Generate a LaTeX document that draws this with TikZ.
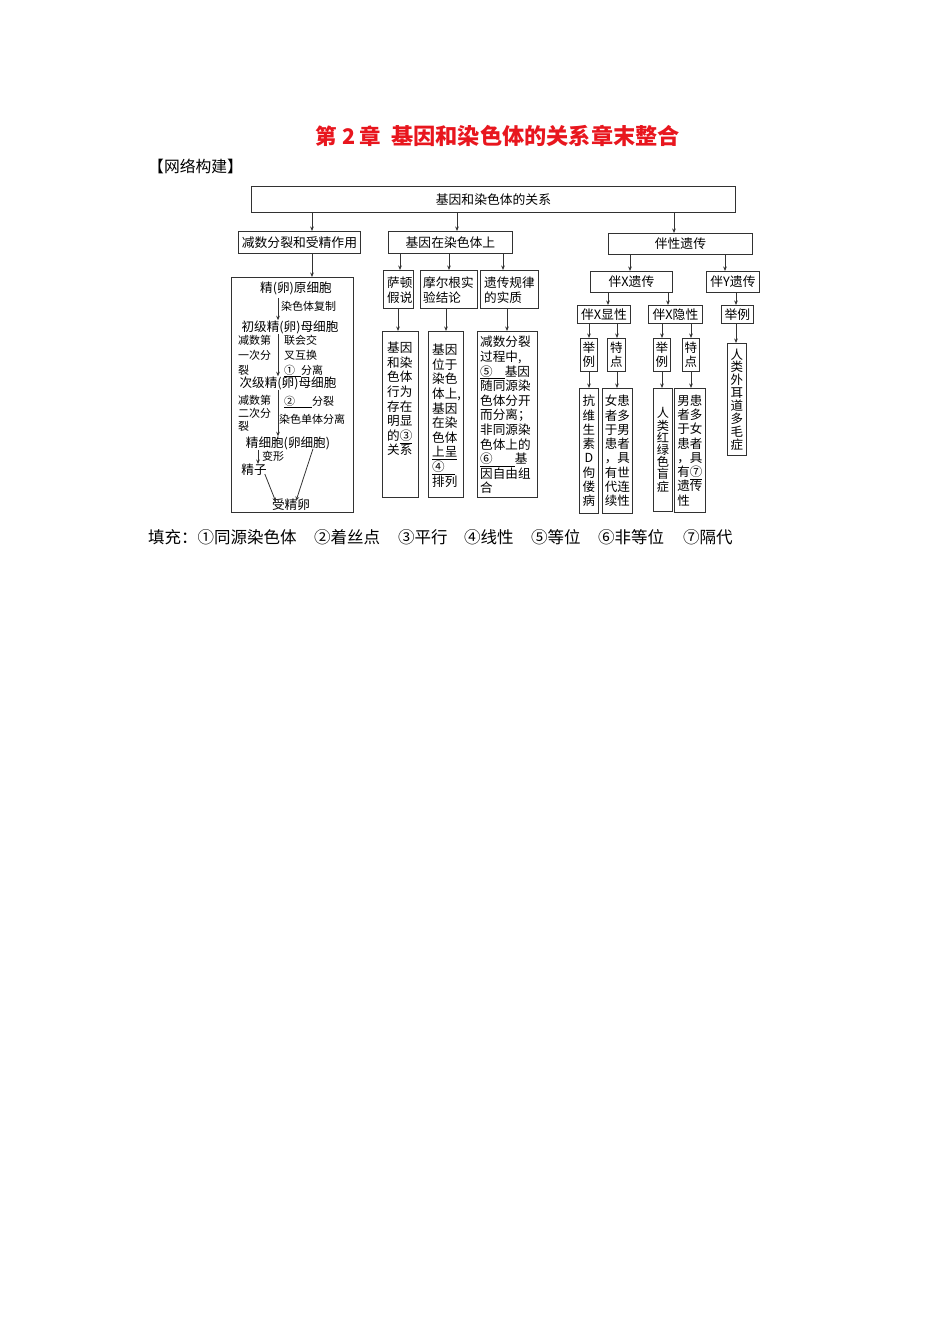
\documentclass[tikz,border=0pt]{standalone}
\usepackage{fontspec}
\setmainfont{Noto Sans CJK SC}
\usetikzlibrary{arrows.meta}
\definecolor{titlered}{RGB}{232,22,30}
\definecolor{linec}{RGB}{50,50,50}
\begin{document}
\begin{tikzpicture}[x=1pt,y=-1pt,
  box/.style={draw=linec, line width=0.9pt, inner sep=0pt, anchor=north west},
  lbl/.style={font=\fontsize{12.8}{14.5}\selectfont},
  vtx/.style={align=center, font=\fontsize{12.5}{14.3}\selectfont},
  txt/.style={inner sep=0pt, align=left, font=\fontsize{12.6}{14.6}\selectfont},
  big/.style={inner sep=0pt, font=\fontsize{12.6}{14.5}\selectfont},
  sml/.style={inner sep=0pt, align=left, font=\fontsize{11}{14.8}\selectfont},
  arr/.style={draw=linec, line width=0.8pt, -{Stealth[length=4.5pt,width=3.6pt]}},
  fillt/.style={anchor=west, inner sep=0pt, font=\fontsize{16.5}{18}\selectfont},
  ttl/.style={inner sep=0pt, text=titlered, font=\fontsize{21.5}{24}\bfseries\selectfont}
]
\useasboundingbox (0,0) rectangle (950,1344);

% title and heading
\node[ttl, anchor=west] (title1) at (315,136) {第\hspace{6pt}2\hspace{4pt}章};
\node[ttl, anchor=east, font=\fontsize{22.2}{24}\bfseries\selectfont] (title2) at (680,136) {基因和染色体的关系章末整合};
\node[anchor=west, inner sep=0pt, font=\fontsize{15.8}{18}\selectfont] (head) at (148,166) {【网络构建】};

% column coordinates
\foreach \c in {312,457,674,278,258,400,449,503,398,446,507,630,725,608,668,736,589,617,662,691}
  \coordinate (c\c) at (\c,0);

% top level
\node[box, lbl, minimum width=484pt, minimum height=26pt] (top) at (251,186) {基因和染色体的关系};
\node[box, lbl, minimum width=122pt, minimum height=22pt] (A) at (238,231) {减数分裂和受精作用};
\node[box, lbl, minimum width=124pt, minimum height=22pt] (B) at (388,231) {基因在染色体上};
\node[box, lbl, minimum width=144pt, minimum height=21pt] (C) at (608,233) {伴性遗传};
\draw[arr] (top.south -| c312) -- (A.north -| c312);
\draw[arr] (top.south -| c457) -- (B.north -| c457);
\draw[arr] (top.south -| c674) -- (C.north -| c674);

% left column
\node[box, minimum width=122pt, minimum height=235pt] (A1) at (231,277) {};
\draw[arr] (A.south -| c312) -- (A1.north -| c312);
\node[big] (n1) at (296,288) {精(卵)原细胞};
\node[big] (n2) at (290,327) {初级精(卵)母细胞};
\node[big] (n3) at (288,383) {次级精(卵)母细胞};
\node[big] (n4) at (288,443) {精细胞(卵细胞)};
\node[big] (n5) at (254,470) {精子};
\node[big] (n6) at (291,505) {受精卵};
\node[sml, anchor=west] (l1) at (281,306) {染色体复制};
\node[sml, anchor=north west] (l2) at (238,335) {减数第\\一次分\\裂};
\node[sml, anchor=north west] (l3) at (284,335) {联会交\\叉互换\\\underline{①\hspace{6pt}}分离};
\node[sml, anchor=north west, font=\fontsize{11}{13.2}\selectfont] (l4) at (238,395) {减数第\\二次分\\裂};
\node[sml, anchor=west] (l5) at (284,402) {\underline{②\hspace{17pt}}分裂};
\node[sml, anchor=west] (l6) at (279,419) {染色单体分离};
\node[sml, anchor=west] (l7) at (262,456) {变形};
\draw[arr] ([yshift=-3pt]n1.south -| c278) -- (n2.north -| c278);
\draw[arr] (n2.south -| c278) -- (n3.north -| c278);
\draw[arr] (n3.south -| c278) -- (n4.north -| c278);
\draw[arr] (n4.south -| c258) -- (n5.north -| c258);
\draw[arr] ([xshift=-2pt,yshift=2pt]n5.south east) -- ([xshift=4pt,yshift=-3pt]n6.north west);
\draw[arr] ([xshift=25pt,yshift=1pt]n4.south) -- ([xshift=5pt,yshift=-2pt]n6.north);

% middle column
\node[box, minimum width=30pt, minimum height=38pt] (B1) at (383,270) {};
\node[box, minimum width=57pt, minimum height=38pt] (B2) at (420,270) {};
\node[box, minimum width=58pt, minimum height=38pt] (B3) at (480,270) {};
\node[txt, anchor=north west] (B1t) at (387,277) {萨顿\\假说};
\node[txt, anchor=north west] (B2t) at (423,277) {摩尔根实\\验结论};
\node[txt, anchor=north west] (B3t) at (484,277) {遗传规律\\的实质};
\draw[arr] (B.south -| c400) -- (B1.north -| c400);
\draw[arr] (B.south -| c449) -- (B2.north -| c449);
\draw[arr] (B.south -| c503) -- (B3.north -| c503);

\node[box, minimum width=36pt, minimum height=166pt] (B1a) at (382,331) {};
\node[box, minimum width=35pt, minimum height=166pt] (B2a) at (428,331) {};
\node[box, minimum width=60pt, minimum height=166pt] (B3a) at (477,331) {};
\draw[arr] (B1.south -| c398) -- (B1a.north -| c398);
\draw[arr] (B2.south -| c446) -- (B2a.north -| c446);
\draw[arr] (B3.south -| c507) -- (B3a.north -| c507);
\node[txt, anchor=north west] (B1at) at (387,342) {基因\\和染\\色体\\行为\\存在\\明显\\的\underline{③}\\关系};
\node[txt, anchor=north west] (B2at) at (432,344) {基因\\位于\\染色\\体上,\\基因\\在染\\色体\\\underline{上呈}\\\underline{④\hspace{10pt}}\\排列};
\node[txt, anchor=north west] (B3at) at (480,336) {减数分裂\\过程中,\\\underline{⑤\hspace{12pt}}基因\\随同源染\\色体分开\\而分离；\\非同源染\\色体上的\\\underline{⑥\hspace{22pt}}基\\因自由组\\合};

% right column
\node[box, lbl, minimum width=82pt, minimum height=21pt] (C1) at (590,271) {伴X遗传};
\node[box, lbl, minimum width=53pt, minimum height=21pt] (C2) at (706,271) {伴Y遗传};
\draw[arr] (C.south -| c630) -- (C1.north -| c630);
\draw[arr] (C.south -| c725) -- (C2.north -| c725);
\node[box, lbl, minimum width=53pt, minimum height=18pt] (C1a) at (577,305) {伴X显性};
\node[box, lbl, minimum width=54pt, minimum height=18pt] (C1b) at (648,305) {伴X隐性};
\node[box, lbl, minimum width=32pt, minimum height=18pt] (C2a) at (721,305) {举例};
\draw[arr] (C1.south -| c608) -- (C1a.north -| c608);
\draw[arr] (C1.south -| c668) -- (C1b.north -| c668);
\draw[arr] (C2.south -| c736) -- (C2a.north -| c736);

\node[box, vtx, minimum width=17pt, minimum height=33pt] (xa1) at (580,338) {举\\例};
\node[box, vtx, minimum width=18pt, minimum height=33pt] (xa2) at (607,338) {特\\点};
\node[box, vtx, minimum width=17pt, minimum height=33pt] (xb1) at (653,338) {举\\例};
\node[box, vtx, minimum width=17pt, minimum height=33pt] (xb2) at (682,338) {特\\点};
\draw[arr] (C1a.south -| c589) -- (xa1.north -| c589);
\draw[arr] (C1a.south -| c617) -- (xa2.north -| c617);
\draw[arr] (C1b.south -| c662) -- (xb1.north -| c662);
\draw[arr] (C1b.south -| c691) -- (xb2.north -| c691);

\node[box, vtx, minimum width=19pt, minimum height=125pt] (xa1x) at (579,388) {抗\\维\\生\\素\\D\\佝\\偻\\病};
\node[box, vtx, align=left, minimum width=30pt, minimum height=125pt] (xa2x) at (602,388) {女患\\者多\\于男\\患者\\，具\\有世\\代连\\续性};
\node[box, vtx, font=\fontsize{12.2}{12.2}\selectfont, minimum width=19pt, minimum height=123pt] (xb1x) at (653,388) {人\\类\\红\\绿\\色\\盲\\症};
\node[box, vtx, align=left, minimum width=31pt, minimum height=124pt] (xb2x) at (674,388) {男患\\者多\\于女\\患者\\，具\\有\underline{⑦}\\遗传\\性};
\node[box, vtx, font=\fontsize{12.5}{12.9}\selectfont, minimum width=19pt, minimum height=112pt] (ya1) at (727,343) {人\\类\\外\\耳\\道\\多\\毛\\症};
\draw[arr] (xa1.south -| c589) -- (xa1x.north -| c589);
\draw[arr] (xa2.south -| c617) -- (xa2x.north -| c617);
\draw[arr] (xb1.south -| c662) -- (xb1x.north -| c662);
\draw[arr] (xb2.south -| c691) -- (xb2x.north -| c691);
\draw[arr] (C2a.south -| c736) -- (ya1.north -| c736);

% fill-in answers
\node[fillt] (f1) at (148,537) {填充：①同源染色体};
\node[fillt] (f2) at (314,537) {②着丝点};
\node[fillt] (f3) at (398,537) {③平行};
\node[fillt] (f4) at (464,537) {④线性};
\node[fillt] (f5) at (531,537) {⑤等位};
\node[fillt] (f6) at (598,537) {⑥非等位};
\node[fillt] (f7) at (683,537) {⑦隔代};
\end{tikzpicture}
\end{document}
